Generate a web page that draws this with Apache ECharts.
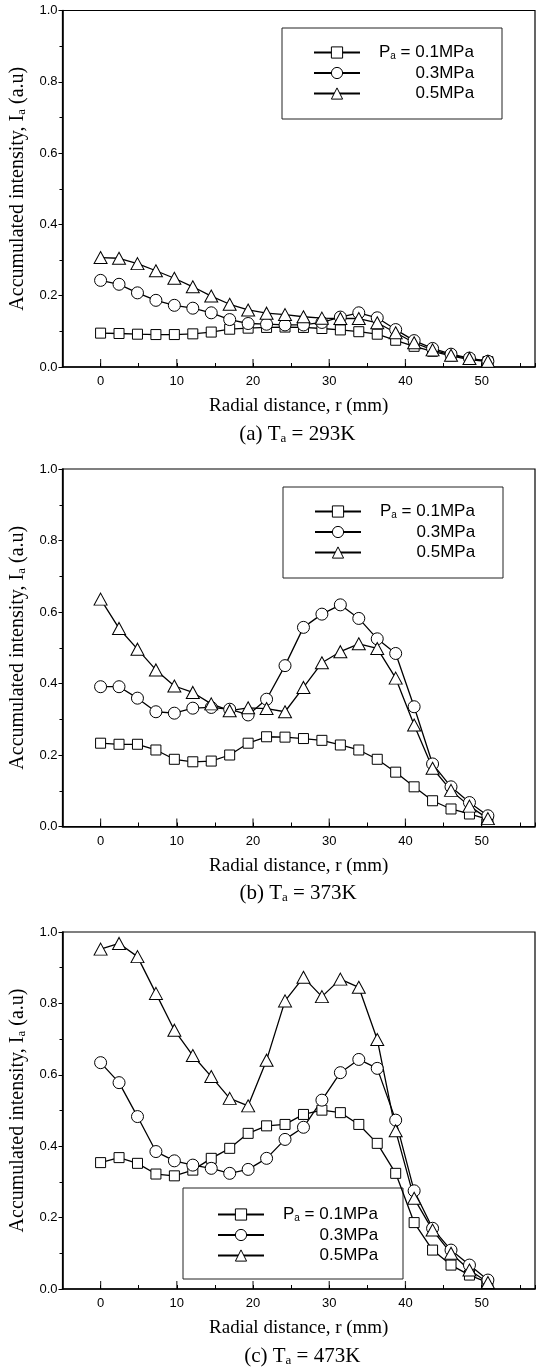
<!DOCTYPE html>
<html><head><meta charset="utf-8">
<script src="https://cdn.jsdelivr.net/npm/echarts@6/dist/echarts.min.js"></script>
<style>html,body{margin:0;padding:0;background:#fff}#c{width:538px;height:1372px}</style>
</head><body><div id="c"></div>
<script>
// ---- data ----
const radialDistance = [0, 2.42, 4.84, 7.26, 9.68, 12.10, 14.52, 16.94, 19.36, 21.78, 24.20, 26.62, 29.04, 31.46, 33.88, 36.30, 38.72, 41.14, 43.56, 45.98, 48.40, 50.82];
const xTickLabels = [0, 10, 20, 30, 40, 50];
const yTickLabels = [0.0, 0.2, 0.4, 0.6, 0.8, 1.0];
const seriesNames = ['0.1MPa', '0.3MPa', '0.5MPa'];
const captions = ['(a) T{s|a} = 293K', '(b) T{s|a} = 373K', '(c) T{s|a} = 473K'];

// (a) Ta = 293K
const a_p01 = [0.095,0.094,0.092,0.091,0.091,0.093,0.098,0.106,0.109,0.111,0.112,0.111,0.108,0.104,0.099,0.092,0.075,0.058,0.044,0.031,0.021,0.015];
const a_p03 = [0.243,0.232,0.208,0.187,0.173,0.165,0.152,0.133,0.122,0.120,0.118,0.118,0.125,0.140,0.152,0.138,0.105,0.074,0.052,0.036,0.025,0.016];
const a_p05 = [0.307,0.305,0.290,0.270,0.249,0.225,0.199,0.176,0.160,0.151,0.147,0.141,0.137,0.136,0.136,0.124,0.096,0.068,0.048,0.033,0.024,0.016];
// (b) Ta = 373K
const b_p01 = [0.233,0.230,0.230,0.214,0.188,0.181,0.183,0.200,0.233,0.251,0.250,0.246,0.241,0.228,0.214,0.188,0.152,0.111,0.072,0.049,0.035,0.020];
const b_p03 = [0.391,0.391,0.359,0.321,0.317,0.331,0.333,0.328,0.312,0.356,0.450,0.557,0.594,0.620,0.582,0.525,0.484,0.335,0.175,0.111,0.067,0.030];
const b_p05 = [0.636,0.554,0.496,0.438,0.393,0.375,0.343,0.324,0.332,0.330,0.321,0.389,0.458,0.489,0.511,0.498,0.415,0.284,0.163,0.101,0.057,0.022];
// (c) Ta = 473K
const c_p01 = [0.354,0.368,0.352,0.322,0.317,0.333,0.366,0.394,0.436,0.457,0.461,0.489,0.501,0.494,0.461,0.408,0.324,0.186,0.109,0.067,0.039,0.018];
const c_p03 = [0.634,0.578,0.483,0.385,0.359,0.347,0.338,0.324,0.335,0.366,0.419,0.453,0.529,0.606,0.643,0.618,0.473,0.275,0.170,0.109,0.067,0.025];
const c_p05 = [0.952,0.968,0.931,0.828,0.725,0.654,0.595,0.534,0.513,0.641,0.807,0.873,0.819,0.868,0.845,0.699,0.443,0.254,0.165,0.100,0.053,0.018];

const panelData = [[a_p01, a_p03, a_p05], [b_p01, b_p03, b_p05], [c_p01, c_p03, c_p05]];

// ---- layout ----
const layouts = [
  { left: 57.5, top: 10.5, height: 356.5, legendLeft: 313, legendTop: 44, box: [282, 28, 220, 91], capY: 434 },
  { left: 58.3, top: 469, height: 357.5, legendLeft: 314, legendTop: 503, box: [283, 487, 220, 91], capY: 893 },
  { left: 62.5, top: 932, height: 357, legendLeft: 217, legendTop: 1206, box: [183, 1188, 220, 91], capY: 1356 }
];
const X_MIN = -5, X_MAX = 57, PX_PER_MM = 7.8;
const symbols = [
  { symbol: 'rect', size: 10 },
  { symbol: 'circle', size: 12 },
  { symbol: 'triangle', size: [13, 12] }
];
const sans = 'Liberation Sans', serif = 'Liberation Serif';

const grid = [], xAxis = [], yAxis = [], series = [], legend = [], graphic = [];
layouts.forEach((L, k) => {
  grid.push({ left: L.left, top: L.top, height: L.height, width: (X_MAX - X_MIN) * PX_PER_MM,
    show: true, borderColor: '#000', borderWidth: 1.2, backgroundColor: 'transparent' });
  xAxis.push({ gridIndex: k, type: 'value', min: X_MIN, max: X_MAX, interval: 5,
    axisLine: { onZero: false, lineStyle: { color: '#000', width: 1.6 } },
    axisTick: { inside: true, length: 4, lineStyle: { color: '#000', width: 1 } },
    axisLabel: { formatter: v => xTickLabels.includes(v) ? String(v) : '', color: '#000', fontFamily: sans, fontSize: 13, margin: 8 },
    splitLine: { show: false },
    name: 'Radial distance, r (mm)', nameLocation: 'middle', nameGap: 30,
    nameTextStyle: { fontFamily: serif, fontSize: 19, color: '#000' } });
  yAxis.push({ gridIndex: k, type: 'value', min: 0, max: 1, interval: 0.2,
    axisLine: { show: true, onZero: false, lineStyle: { color: '#000', width: 1.6 } },
    axisTick: { show: true, length: 4, lineStyle: { color: '#000', width: 1 } },
    minorTick: { show: true, splitNumber: 2, length: 3, lineStyle: { color: '#000', width: 1 } },
    axisLabel: { formatter: v => yTickLabels.some(t => Math.abs(t - v) < 1e-6) ? v.toFixed(1) : '', color: '#000', fontFamily: sans, fontSize: 13, margin: 5 },
    splitLine: { show: false },
    name: 'Accumulated intensity, I{s|a} (a.u)', nameLocation: 'middle', nameRotate: 90, nameGap: 29,
    nameTextStyle: { fontFamily: serif, fontSize: 20, color: '#000',
      rich: { s: { fontFamily: serif, fontSize: 13, verticalAlign: 'bottom', padding: [8, 0, 0, 0] } } } });
  panelData[k].forEach((vals, j) => {
    series.push({ type: 'line', name: seriesNames[j], xAxisIndex: k, yAxisIndex: k,
      data: radialDistance.map((x, i) => [x, vals[i]]),
      symbol: symbols[j].symbol, symbolSize: symbols[j].size, showAllSymbol: true,
      lineStyle: { color: '#000', width: 1.3 },
      itemStyle: { color: '#fff', borderColor: '#000', borderWidth: 1 },
      emphasis: { disabled: true }, animation: false, z: 3 });
  });
  // major (long) ticks on x at labelled positions
  series.push({ type: 'scatter', name: 'majorTicks' + k, xAxisIndex: k, yAxisIndex: k,
    data: xTickLabels.map(v => [v, 0]), symbol: 'rect', symbolSize: [1.2, 8], symbolOffset: [0, -4],
    itemStyle: { color: '#000' }, silent: true, animation: false, z: 1 });
  legend.push({ data: seriesNames, orient: 'vertical', left: L.legendLeft, top: L.legendTop,
    itemWidth: 46, itemHeight: 14, itemGap: 3.5, padding: 0, selectedMode: false,
    lineStyle: { width: 2 }, itemStyle: { borderWidth: 1 },
    formatter: name => name === seriesNames[0] ? '{g|}P{s|a} = ' + name : '{g|}{pad|}' + name,
    textStyle: { fontFamily: sans, fontSize: 17, color: '#000', lineHeight: 17,
      rich: { g: { width: 14 }, pad: { width: 36.5 },
        s: { fontFamily: sans, fontSize: 10, verticalAlign: 'bottom', padding: [6, 0, 0, 0] } } } });
  graphic.push({ type: 'rect', shape: { x: L.box[0], y: L.box[1], width: L.box[2], height: L.box[3] },
    style: { fill: 'none', stroke: '#222', lineWidth: 1 }, silent: true });
  graphic.push({ type: 'text', x: L.left + (X_MAX - X_MIN) * PX_PER_MM / 2 - 2, y: L.capY,
    style: { text: captions[k], fontFamily: serif, fontSize: 21, fill: '#000', align: 'center', verticalAlign: 'middle',
      rich: { s: { fontFamily: serif, fontSize: 13, verticalAlign: 'bottom', padding: [9, 0, 0, 0], fill: '#000' } } } });
});

const chart = echarts.init(document.getElementById('c'), null, { renderer: 'canvas' });
chart.setOption({ animation: false, backgroundColor: '#fff', grid, xAxis, yAxis, series, legend, graphic });
</script>
</body></html>
